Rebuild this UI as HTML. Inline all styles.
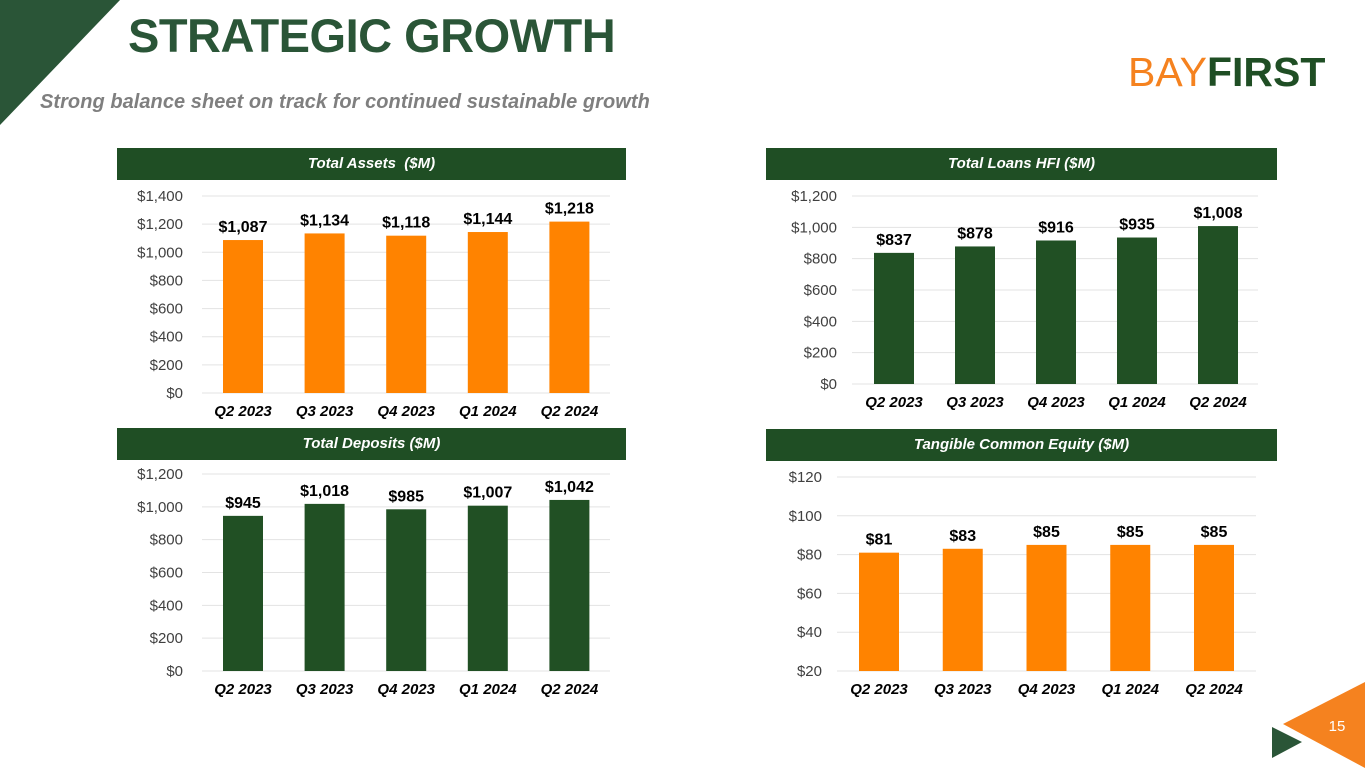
<!DOCTYPE html>
<html><head><meta charset="utf-8"><style>
html,body{margin:0;padding:0;background:#fff;}
body{width:1365px;height:768px;position:relative;overflow:hidden;font-family:"Liberation Sans",sans-serif;}
.hdr{position:absolute;background:#1f4e24;color:#fff;font:italic bold 15px "Liberation Sans",sans-serif;text-align:center;line-height:32px;height:32px;}
svg text{font-family:"Liberation Sans",sans-serif;}
</style></head><body>
<svg width="1365" height="768" style="position:absolute;left:0;top:0">
<polygon points="0,0 120,0 0,125" fill="#2a5537"/>
<polygon points="1283,724 1365,682 1365,768" fill="#f5821f"/>
<polygon points="1272,727 1302,742 1272,758" fill="#2a5537"/>
<text x="1337" y="731" fill="#fff" font-size="15" text-anchor="middle">15</text>
</svg>
<div style="position:absolute;left:128px;top:8px;font:bold 47px 'Liberation Sans',sans-serif;color:#2a5537;letter-spacing:-0.5px">STRATEGIC GROWTH</div>
<div style="position:absolute;left:40px;top:91px;font:italic bold 20px 'Liberation Sans',sans-serif;color:#7f7f7f;letter-spacing:0.05px">Strong balance sheet on track for continued sustainable growth</div>
<div style="position:absolute;left:1128px;top:50px;font:41px 'Liberation Sans',sans-serif;letter-spacing:0px;line-height:44px"><span style="color:#f5821f">BAY</span><span style="color:#1f4e24;font-weight:bold">FIRST</span></div>
<div class="hdr" style="left:117px;top:148px;width:509px">Total Assets&nbsp; ($M)</div>
<div class="hdr" style="left:766px;top:148px;width:511px">Total Loans HFI ($M)</div>
<div class="hdr" style="left:117px;top:428px;width:509px">Total Deposits ($M)</div>
<div class="hdr" style="left:766px;top:429px;width:511px">Tangible Common Equity ($M)</div>
<svg id="charts" width="1365" height="768" style="position:absolute;left:0;top:0"></svg>
<script>
const categories = ["Q2 2023","Q3 2023","Q4 2023","Q1 2024","Q2 2024"];
const assetsValues = [1087,1134,1118,1144,1218];
const loansValues = [837,878,916,935,1008];
const depositsValues = [945,1018,985,1007,1042];
const tceValues = [81,83,85,85,85];
const assetsTicks = [0,200,400,600,800,1000,1200,1400];
const loansTicks = [0,200,400,600,800,1000,1200];
const depositsTicks = [0,200,400,600,800,1000,1200];
const tceTicks = [20,40,60,80,100,120];

const NS="http://www.w3.org/2000/svg";
const svg=document.getElementById('charts');
function mk(tag,attrs,parent){const e=document.createElementNS(NS,tag);for(const k in attrs)e.setAttribute(k,attrs[k]);(parent||svg).appendChild(e);return e;}
function fmt(v){return '$'+v.toLocaleString('en-US');}
function chart(name,vals,ticks,color,g){
  const grp=mk('g',{});
  
  
  const min=ticks[0],max=ticks[ticks.length-1];
  const y=v=>g.y0-(v-min)/(max-min)*(g.y0-g.y1);
  const x=i=>g.c0+i*g.step;
  ticks.forEach(t=>{
    const l=mk('line',{x1:g.gx0,x2:g.gx1,y1:y(t),y2:y(t),stroke:'#e3e3e3','stroke-width':1},grp);
    
    
    const tx=mk('text',{x:g.lx,y:y(t)+5,'text-anchor':'end','font-size':15,fill:'#404040'},grp);
    tx.textContent=fmt(t);
    
    
  });
  vals.forEach((v,i)=>{
    const r=mk('rect',{x:x(i)-20,y:y(v),width:40,height:g.y0-y(v),fill:color},grp);
    
    
    const t=mk('text',{x:x(i),y:y(v)-8,'text-anchor':'middle','font-size':16,'font-weight':'bold',fill:'#000'},grp);
    t.textContent=fmt(v);
    
    
    const c=mk('text',{x:x(i),y:g.y0+23,'text-anchor':'middle','font-size':15,'font-weight':'bold','font-style':'italic',fill:'#000'},grp);
    c.textContent=categories[i];
    
    
  });
}
chart('total-assets',assetsValues,assetsTicks,'#ff8300',{y0:393,y1:196,c0:243,step:81.6,gx0:202,gx1:610,lx:183});
chart('total-loans',loansValues,loansTicks,'#215024',{y0:384,y1:196,c0:894,step:81,gx0:852,gx1:1258,lx:837});
chart('total-deposits',depositsValues,depositsTicks,'#215024',{y0:671,y1:474,c0:243,step:81.6,gx0:202,gx1:610,lx:183});
chart('tce',tceValues,tceTicks,'#ff8300',{y0:671,y1:477,c0:879,step:83.75,gx0:837,gx1:1256,lx:822});
</script>
</body></html>
